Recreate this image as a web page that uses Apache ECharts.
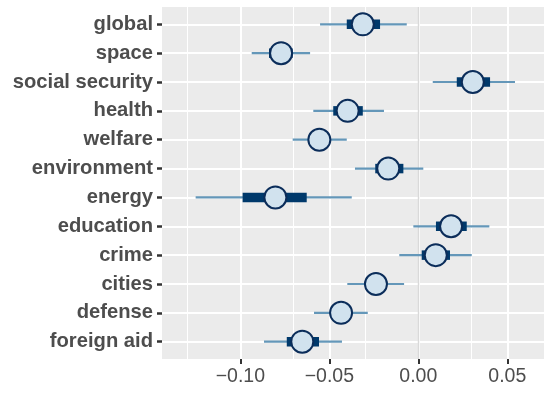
<!DOCTYPE html>
<html><head><meta charset="utf-8">
<script src="https://cdn.jsdelivr.net/npm/echarts@6/dist/echarts.min.js"></script>
<style>html,body{margin:0;padding:0;background:#fff}#c{width:544px;height:393px}</style>
</head><body><div id="c"></div>
<script>
const categories = ['global','space','social security','health','welfare','environment','energy','education','crime','cities','defense','foreign aid'];
const estimate  = [-0.0312,-0.0771, 0.0306,-0.0397,-0.0556,-0.0169,-0.0803, 0.0184, 0.0098,-0.0238,-0.0434,-0.0652];
const innerLow  = [-0.0402,-0.0839, 0.0216,-0.0478,-0.0605,-0.0242,-0.0987, 0.0099, 0.0019,-0.0290,-0.0490,-0.0739];
const innerHigh = [-0.0215,-0.0706, 0.0403,-0.0312,-0.0505,-0.0084,-0.0627, 0.0272, 0.0178,-0.0185,-0.0380,-0.0558];
const outerLow  = [-0.0552,-0.0936, 0.0081,-0.0590,-0.0706,-0.0356,-0.1251,-0.0028,-0.0107,-0.0399,-0.0586,-0.0867];
const outerHigh = [-0.0065,-0.0608, 0.0543,-0.0193,-0.0402, 0.0028,-0.0374, 0.0399, 0.0300,-0.0080,-0.0284,-0.0429];
const xTicks = [-0.10,-0.05,0.00,0.05];
const xMinorTicks = [-0.125,-0.075,-0.025,0.025];

const idx = categories.map((_, i) => i);
const FONT = '"Liberation Sans", Arial, sans-serif';
function fmtX(v){ const a = Math.abs(v).toFixed(2); return (v < -1e-9 ? '\u2212' : '') + a; }
function barRender(h, color){
  return function(params, api){
    const lo = api.coord([api.value(0), api.value(2)]);
    const hi = api.coord([api.value(1), api.value(2)]);
    return {type:'rect', shape:{x:lo[0], y:lo[1]-h/2, width:hi[0]-lo[0], height:h}, style:{fill:color}};
  };
}
const gridLines = []
  .concat(xMinorTicks.map(v => ({xAxis:v, lineStyle:{color:'#FFFFFF',width:1}})))
  .concat(idx.map(i => ({yAxis:i, lineStyle:{color:'#FFFFFF',width:2}})))
  .concat(xTicks.map(v => ({xAxis:v, lineStyle:{color:'#FFFFFF',width:2}})))
  .concat([{xAxis:0, lineStyle:{color:'#D9D9D9',width:1.4}}]);

const chart = echarts.init(document.getElementById('c'), null, {renderer:'canvas'});
const xMin = -0.144, xMax = 0.0706;
chart.setOption({
  animation:false,
  backgroundColor:'#ffffff',
  grid:{left:162,right:0,top:7,bottom:34,show:true,backgroundColor:'#EBEBEB',borderWidth:0,containLabel:false,outerBoundsMode:'none'},
  xAxis:{
    type:'value',min:xMin,max:xMax,position:'bottom',
    axisLine:{show:false,onZero:false},
    axisTick:{show:true,customValues:xTicks,length:5,lineStyle:{color:'#333333',width:2}},
    axisLabel:{customValues:xTicks,formatter:fmtX,color:'#4D4D4D',fontSize:19.5,fontFamily:FONT,margin:8},
    splitLine:{show:false}
  },
  yAxis:{
    type:'value',inverse:true,min:-0.6,max:11.6,
    axisLine:{show:false,onZero:false},
    axisTick:{show:true,customValues:idx,length:5,lineStyle:{color:'#333333',width:2.5}},
    axisLabel:{customValues:idx,formatter:v=>categories[Math.round(v)],color:'#4D4D4D',fontSize:20.2,fontWeight:'bold',fontFamily:FONT,margin:9},
    splitLine:{show:false}
  },
  series:[{
    type:'custom',z:1,data:[],renderItem:()=>null,
    markLine:{z:1,silent:true,symbol:'none',animation:false,label:{show:false},emphasis:{disabled:true},lineStyle:{type:'solid'},data:gridLines}
  },{
    type:'custom',z:2,
    data:idx.map(i=>[outerLow[i],outerHigh[i],i]),
    encode:{x:[0,1],y:2},
    renderItem:barRender(2.2,'#6497B9')
  },{
    type:'custom',z:3,
    data:idx.map(i=>[innerLow[i],innerHigh[i],i]),
    encode:{x:[0,1],y:2},
    renderItem:barRender(9.5,'#00396B')
  },{
    type:'scatter',z:4,
    data:idx.map(i=>[estimate[i],i]),
    symbol:'circle',symbolSize:22,
    itemStyle:{color:'#D1E2EE',borderColor:'#0B2D5A',borderWidth:2,opacity:1}
  }]
});
</script></body></html>
